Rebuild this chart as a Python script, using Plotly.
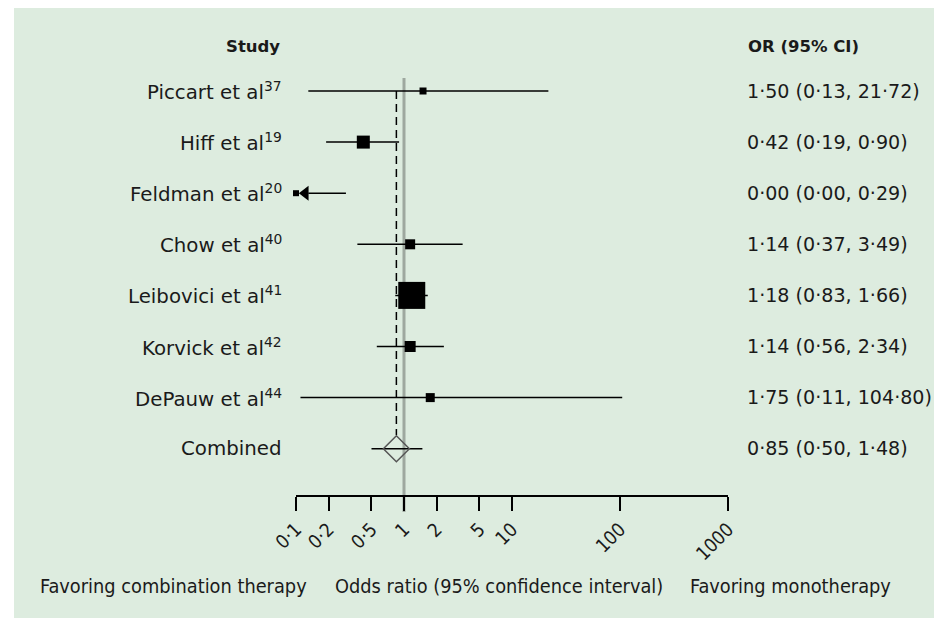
import math
import plotly.graph_objects as go

# ---------------- data ----------------
studies = ["Piccart et al", "Hiff et al", "Feldman et al", "Chow et al",
           "Leibovici et al", "Korvick et al", "DePauw et al"]
refs = ["37", "19", "20", "40", "41", "42", "44"]
or_vals = [1.50, 0.42, 0.00, 1.14, 1.18, 1.14, 1.75]
ci_low = [0.13, 0.19, 0.00, 0.37, 0.83, 0.56, 0.11]
ci_high = [21.72, 0.90, 0.29, 3.49, 1.66, 2.34, 104.80]
combined_or = 0.85
combined_low = 0.50
combined_high = 1.48
tick_vals = [0.1, 0.2, 0.5, 1, 2, 5, 10, 100, 1000]
tick_text = ["0·1", "0·2", "0·5", "1", "2", "5", "10", "100", "1000"]

# ---------------- style ----------------
W, H = 934, 618
ML, MR, MT, MB = 296, 206, 30, 123
PW, PH = W - ML - MR, H - MT - MB
XMIN, XMAX = 0.1, 1000
BG = "#ddecdf"
FONT = "DejaVu Sans"
FONT_C = "DejaVu Sans Condensed, Liberation Sans Narrow, DejaVu Sans"
sizes = [7, 13, 6, 10, 27, 11, 9]

n = len(studies)
rows = list(range(n))
comb_row = n


def fmt(v):
    return f"{v:.2f}".replace(".", "·")


def px_x(px):
    return (px - ML) / PW


def px_y(px):
    return (H - MB - px) / PH


def xpaper(v):
    return (math.log10(v) - math.log10(XMIN)) / (math.log10(XMAX) - math.log10(XMIN))


def clip(v):
    return max(v, XMIN)


fig = go.Figure()

# CI lines
lx, ly = [], []
for i in rows:
    lo = ci_low[i]
    if lo < XMIN:
        lo = XMIN * 1.3
    lx += [lo, ci_high[i], None]
    ly += [i, i, None]
lx += [combined_low, combined_high, None]
ly += [comb_row, comb_row, None]
fig.add_trace(go.Scatter(x=lx, y=ly, mode="lines",
                         line=dict(color="black", width=1.5),
                         hoverinfo="skip", showlegend=False))

# dashed line at combined OR
fig.add_trace(go.Scatter(x=[combined_or, combined_or], y=[0, comb_row - 0.27],
                         mode="lines",
                         line=dict(color="black", width=1.5, dash="8px,5px"),
                         hoverinfo="skip", showlegend=False))

# arrows for truncated lower limits
ax_, ay_ = [], []
for i in rows:
    if ci_low[i] < XMIN:
        ax_.append(XMIN * 1.22)
        ay_.append(i)
fig.add_trace(go.Scatter(x=ax_, y=ay_, mode="markers",
                         marker=dict(symbol="triangle-left", size=13, color="black",
                                     opacity=1),
                         cliponaxis=False, hoverinfo="skip", showlegend=False))

# study point estimates
fig.add_trace(go.Scatter(x=[clip(v) for v in or_vals], y=rows, mode="markers",
                         marker=dict(symbol="square", size=sizes, color="black",
                                     opacity=1, line=dict(width=0)),
                         cliponaxis=False, hoverinfo="skip", showlegend=False))

# combined diamond
fig.add_trace(go.Scatter(x=[combined_or], y=[comb_row], mode="markers",
                         marker=dict(symbol="diamond-open", size=20, opacity=1,
                                     color="#555555", line=dict(width=1.5)),
                         cliponaxis=False, hoverinfo="skip", showlegend=False))

shapes = [
    dict(type="rect", xref="paper", yref="paper",
         x0=px_x(14), x1=px_x(W), y0=px_y(H), y1=px_y(8),
         fillcolor=BG, line=dict(width=0), layer="below"),
    dict(type="line", xref="paper", yref="paper",
         x0=xpaper(1), x1=xpaper(1), y0=px_y(512), y1=px_y(78),
         line=dict(color="#9ea89f", width=3), layer="below"),
]

annotations = []
row_font = dict(family=FONT, size=19.8, color="#1a1a1a")
val_font = dict(family=FONT, size=19.1, color="#1a1a1a")
for i in rows:
    annotations.append(dict(xref="paper", yref="y", x=px_x(284), y=i,
                            text=f"{studies[i]}<sup>{refs[i]}</sup>",
                            xanchor="right", yanchor="middle",
                            showarrow=False, font=row_font))
    annotations.append(dict(xref="paper", yref="y", x=px_x(745), y=i,
                            text=f"{fmt(or_vals[i])} ({fmt(ci_low[i])}, {fmt(ci_high[i])})",
                            xanchor="left", yanchor="middle",
                            showarrow=False, font=val_font))
annotations.append(dict(xref="paper", yref="y", x=px_x(284), y=comb_row,
                        text="Combined", xanchor="right", yanchor="middle",
                        showarrow=False, font=row_font))
annotations.append(dict(xref="paper", yref="y", x=px_x(745), y=comb_row,
                        text=f"{fmt(combined_or)} ({fmt(combined_low)}, {fmt(combined_high)})",
                        xanchor="left", yanchor="middle",
                        showarrow=False, font=val_font))

hdr_font = dict(family=FONT, size=16.5, color="#1a1a1a")
annotations.append(dict(xref="paper", yref="paper", x=px_x(282), y=px_y(47),
                        text="<b>Study</b>", xanchor="right", yanchor="middle",
                        showarrow=False, font=hdr_font))
annotations.append(dict(xref="paper", yref="paper", x=px_x(746), y=px_y(47),
                        text="<b>OR (95% CI)</b>", xanchor="left", yanchor="middle",
                        showarrow=False, font=hdr_font))

bot_font = dict(family=FONT_C, size=19.8, color="#1a1a1a")
for txt, xl in [("Favoring combination therapy", 38),
                ("Odds ratio (95% confidence interval)", 333),
                ("Favoring monotherapy", 688)]:
    annotations.append(dict(xref="paper", yref="paper", x=px_x(xl), y=px_y(586),
                            text=txt, xanchor="left", yanchor="middle",
                            showarrow=False, font=bot_font))

y_top = (MT - 91) / 51.1
y_bot = (MT + PH - 91) / 51.1

fig.update_layout(
    width=W, height=H,
    margin=dict(l=ML, r=MR, t=MT, b=MB, pad=0),
    paper_bgcolor="white",
    plot_bgcolor="rgba(0,0,0,0)",
    shapes=shapes,
    annotations=annotations,
    xaxis=dict(type="log", range=[math.log10(XMIN), math.log10(XMAX)],
               tickvals=tick_vals, ticktext=tick_text, tickangle=-45,
               ticks="outside", ticklen=14, tickwidth=1.5, tickcolor="black",
               showline=True, linecolor="black", linewidth=1.5,
               showgrid=False, zeroline=False,
               tickfont=dict(family=FONT_C, size=19, color="#1a1a1a")),
    yaxis=dict(range=[y_bot, y_top], visible=False, showgrid=False,
               zeroline=False),
)

fig.write_html("out.html")
